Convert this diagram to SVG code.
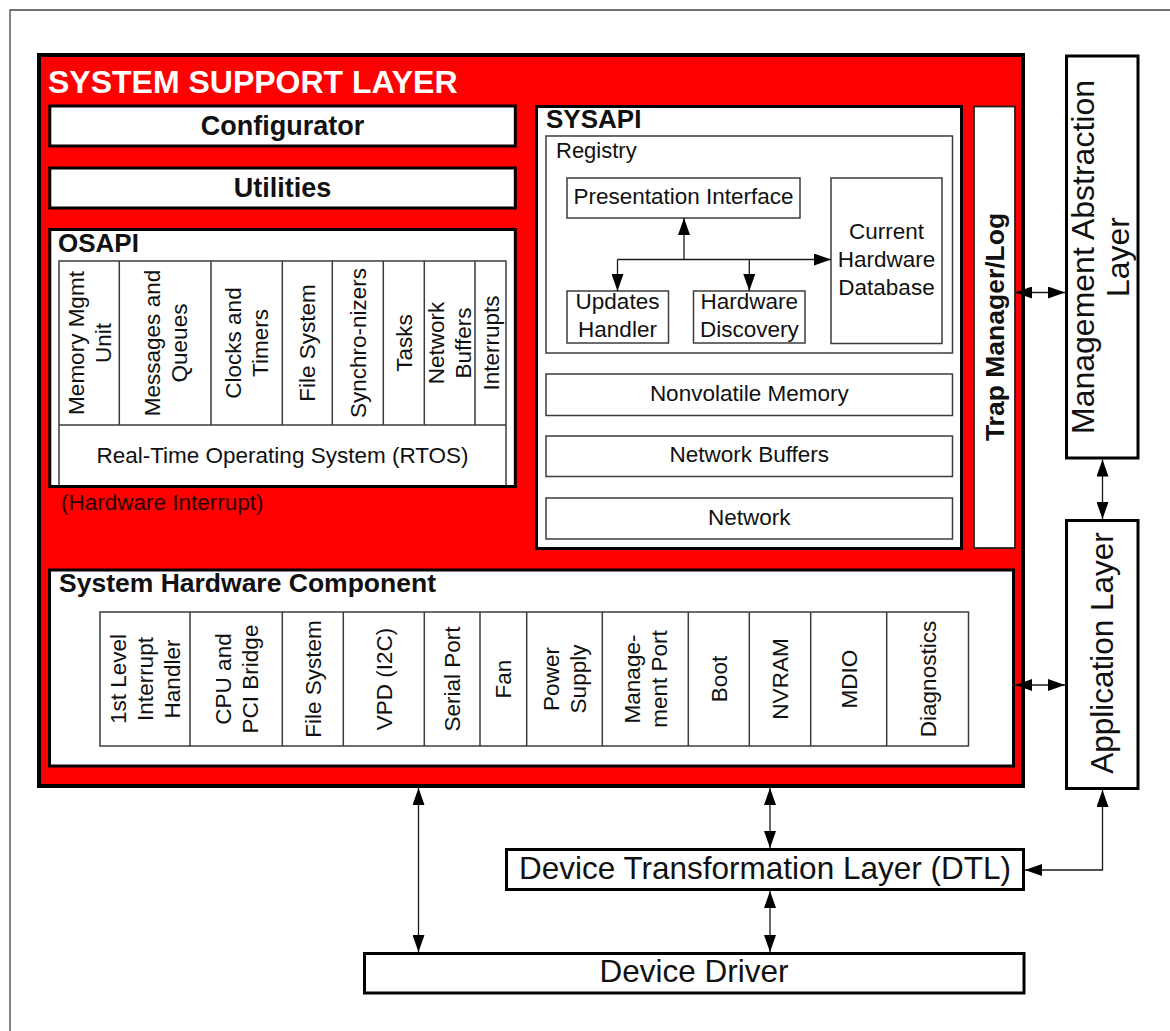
<svg xmlns="http://www.w3.org/2000/svg" width="1170" height="1031" viewBox="0 0 1170 1031">
  <style>
    text { font-family: "Liberation Sans", Arial, sans-serif; fill: #111; }
    .t { font-size: 22.5px; }
    .c { text-anchor: middle; }
    .b { font-weight: bold; }
    .big { font-size: 31.5px; }
    .heavy { fill: #fff; stroke: #000; stroke-width: 3; }
    .frame { fill: none; stroke: #000; stroke-width: 3; }
    .cell { fill: #fff; stroke: #3c3c3c; stroke-width: 1.5; }
    .thin { fill: none; stroke: #3c3c3c; stroke-width: 1.5; }
    .conn { fill: none; stroke: #1a1a1a; stroke-width: 1.3; }
    .one { marker-end: url(#head); }
    .two { marker-start: url(#head); marker-end: url(#head); }
  </style>
  <defs>
    <marker id="head" markerUnits="userSpaceOnUse" markerWidth="17" markerHeight="12" refX="17" refY="6" orient="auto-start-reverse">
      <path d="M0,0 L17,6 L0,12 z" fill="#000"/>
    </marker>
  </defs>

  <rect width="1170" height="1031" fill="#fff"/>
  <!-- page border -->
  <path d="M10,1031 V10 H1170" fill="none" stroke="#444" stroke-width="1.3"/>

  <!-- system support layer -->
  <g id="system-support-layer">
    <rect x="39" y="55" width="984" height="731" fill="#ff0000" stroke="#000" stroke-width="4"/>
    <text x="48" y="93" class="b" style="font-size:32px;fill:#fff">SYSTEM SUPPORT LAYER</text>
    <text x="61" y="510" class="t" style="fill:#2b0000">(Hardware Interrupt)</text>
  </g>

  <g id="configurator">
    <rect x="49.8" y="106" width="465.5" height="40" class="heavy"/>
    <text x="282.5" y="135" class="c b" style="font-size:27px">Configurator</text>
  </g>

  <g id="utilities">
    <rect x="49.8" y="168" width="465.5" height="40" class="heavy"/>
    <text x="282.5" y="197" class="c b" style="font-size:27px">Utilities</text>
  </g>

  <!-- OSAPI -->
  <g id="osapi">
    <rect x="49.8" y="229.5" width="465.5" height="257" fill="#fff"/>
    <rect x="59" y="261" width="447" height="225" class="cell"/>
    <path d="M59,425 H506 M119.3,261 V425 M211,261 V425 M282.3,261 V425 M332.3,261 V425 M383.3,261 V425 M424.3,261 V425 M475,261 V425" class="thin"/>
    <rect x="49.8" y="229.5" width="465.5" height="257" class="frame"/>
    <text x="58" y="252" class="b" style="font-size:26px">OSAPI</text>
    <g class="t c">
      <text transform="translate(89,343) rotate(-90)"><tspan x="0" y="-5.5">Memory Mgmt</tspan><tspan x="0" y="21.5">Unit</tspan></text>
      <text transform="translate(165,343) rotate(-90)"><tspan x="0" y="-5.5">Messages and</tspan><tspan x="0" y="21.5">Queues</tspan></text>
      <text transform="translate(246.5,343) rotate(-90)"><tspan x="0" y="-5.5">Clocks and</tspan><tspan x="0" y="21.5">Timers</tspan></text>
      <text transform="translate(307,343) rotate(-90)" y="8">File System</text>
      <text transform="translate(358,343) rotate(-90)" y="8">Synchro-nizers</text>
      <text transform="translate(404,343) rotate(-90)" y="8">Tasks</text>
      <text transform="translate(449.7,343) rotate(-90)"><tspan x="0" y="-5.5">Network</tspan><tspan x="0" y="21.5">Buffers</tspan></text>
      <text transform="translate(490.5,343) rotate(-90)" y="8">Interrupts</text>
      <text x="282.5" y="463">Real-Time Operating System (RTOS)</text>
    </g>
  </g>

  <!-- SYSAPI -->
  <g id="sysapi">
    <rect x="536.5" y="106.5" width="425" height="442" class="heavy"/>
    <text x="546" y="128" class="b" style="font-size:26px">SYSAPI</text>
    <g id="registry">
      <rect x="546" y="136" width="406.5" height="217" class="cell"/>
      <text x="556" y="158" style="font-size:22px">Registry</text>
    </g>
    <g id="presentation-interface">
      <rect x="567" y="178" width="233" height="40" class="cell"/>
      <text x="683.5" y="204" class="t c">Presentation Interface</text>
    </g>
    <g id="current-hardware-database">
      <rect x="831" y="178" width="111" height="165.5" class="cell"/>
      <text class="t c"><tspan x="886.5" y="239">Current</tspan><tspan x="886.5" y="267">Hardware</tspan><tspan x="886.5" y="295">Database</tspan></text>
    </g>
    <g id="updates-handler">
      <rect x="567" y="291" width="101.5" height="52" class="cell"/>
      <text class="t c"><tspan x="617.5" y="309">Updates</tspan><tspan x="617.5" y="337">Handler</tspan></text>
    </g>
    <g id="hardware-discovery">
      <rect x="693.5" y="291" width="111.5" height="52" class="cell"/>
      <text class="t c"><tspan x="749.3" y="309">Hardware</tspan><tspan x="749.3" y="337">Discovery</tspan></text>
    </g>
    <g id="nonvolatile-memory">
      <rect x="546" y="374" width="406.5" height="41.5" class="cell"/>
      <text x="749.3" y="401" class="t c">Nonvolatile Memory</text>
    </g>
    <g id="network-buffers">
      <rect x="546" y="436" width="406.5" height="40.5" class="cell"/>
      <text x="749.3" y="462" class="t c">Network Buffers</text>
    </g>
    <g id="network">
      <rect x="546" y="498" width="406.5" height="41" class="cell"/>
      <text x="749.3" y="525" class="t c">Network</text>
    </g>
  </g>

  <g id="trap-manager">
    <rect x="974" y="106.5" width="41" height="441.5" fill="#fff" stroke="#222" stroke-width="1.8"/>
    <text transform="translate(994.5,327) rotate(-90)" y="9.4" class="c b" style="font-size:26.5px">Trap Manager/Log</text>
  </g>

  <!-- System Hardware Component -->
  <g id="system-hardware-component">
    <rect x="49.5" y="570" width="964" height="196" class="heavy"/>
    <text x="59" y="592" class="b" style="font-size:26.5px">System Hardware Component</text>
    <rect x="100" y="612" width="868.5" height="134" class="cell"/>
    <path d="M190,612 V746 M282.3,612 V746 M343.3,612 V746 M424.3,612 V746 M480,612 V746 M526.7,612 V746 M602.3,612 V746 M688.3,612 V746 M749.3,612 V746 M810.7,612 V746 M886.7,612 V746" class="thin"/>
    <g class="t c">
      <text transform="translate(144.5,679) rotate(-90)"><tspan x="0" y="-19">1st Level</tspan><tspan x="0" y="8">Interrupt</tspan><tspan x="0" y="35">Handler</tspan></text>
      <text transform="translate(236,679) rotate(-90)"><tspan x="0" y="-5.5">CPU and</tspan><tspan x="0" y="21.5">PCI Bridge</tspan></text>
      <text transform="translate(312.8,679) rotate(-90)" y="8">File System</text>
      <text transform="translate(383.8,679) rotate(-90)" y="8">VPD (I2C)</text>
      <text transform="translate(452,679) rotate(-90)" y="8">Serial Port</text>
      <text transform="translate(503.3,679) rotate(-90)" y="8">Fan</text>
      <text transform="translate(564.5,679) rotate(-90)"><tspan x="0" y="-5.5">Power</tspan><tspan x="0" y="21.5">Supply</tspan></text>
      <text transform="translate(645.3,679) rotate(-90)"><tspan x="0" y="-5.5">Manage-</tspan><tspan x="0" y="21.5">ment Port</tspan></text>
      <text transform="translate(718.8,679) rotate(-90)" y="8">Boot</text>
      <text transform="translate(780,679) rotate(-90)" y="8">NVRAM</text>
      <text transform="translate(848.7,679) rotate(-90)" y="8">MDIO</text>
      <text transform="translate(927.6,679) rotate(-90)" y="8">Diagnostics</text>
    </g>
  </g>

  <g id="management-abstraction-layer">
    <rect x="1066.5" y="56" width="71.5" height="402" class="heavy"/>
    <text transform="translate(1102,257) rotate(-90)" class="c" style="font-size:32px"><tspan x="0" y="-8.5">Management Abstraction</tspan><tspan x="0" y="27">Layer</tspan></text>
  </g>

  <g id="application-layer">
    <rect x="1066.5" y="520.5" width="71.5" height="268" class="heavy"/>
    <text transform="translate(1102,653) rotate(-90)" y="11.3" class="c big">Application Layer</text>
  </g>

  <g id="device-transformation-layer">
    <rect x="506.5" y="849.5" width="517" height="40" class="heavy"/>
    <text x="765" y="878.5" class="c big">Device Transformation Layer (DTL)</text>
  </g>

  <g id="device-driver">
    <rect x="364.5" y="953.5" width="659.5" height="39.5" class="heavy"/>
    <text x="694" y="982" class="c big">Device Driver</text>
  </g>

  <!-- connectors -->
  <g id="connectors">
    <path d="M684,259.5 V218" class="conn one"/>
    <path d="M617.5,259.5 H831" class="conn one"/>
    <path d="M617.5,259.5 V291" class="conn one"/>
    <path d="M749.3,259.5 V291" class="conn one"/>
    <path d="M1015,292.5 H1065" class="conn two"/>
    <path d="M1102.5,459.5 V519" class="conn two"/>
    <path d="M1015,685 H1065" class="conn two"/>
    <path d="M1102.5,790 V870 H1025" class="conn two"/>
    <path d="M418.5,788 V952" class="conn two"/>
    <path d="M770,788 V848" class="conn two"/>
    <path d="M770,891 V952" class="conn two"/>
  </g>
</svg>
